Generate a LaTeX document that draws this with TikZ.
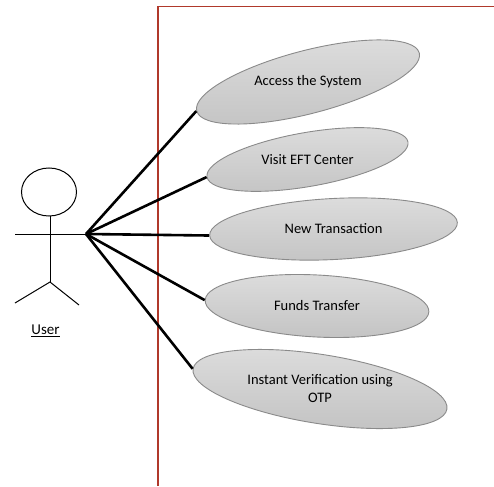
\documentclass[tikz,border=0pt]{standalone}
\usepackage{fontspec}
\setmainfont{Carlito}
\usetikzlibrary{shapes.geometric}
\definecolor{boundary}{HTML}{B0392B}
\definecolor{ucborder}{HTML}{8A8A8A}
\definecolor{uctop}{HTML}{DDDDDD}
\definecolor{ucbot}{HTML}{C4C4C4}
\begin{document}
\begin{tikzpicture}[x=1pt,y=-1pt,
  usecase/.style={ellipse, draw=ucborder, line width=0.9pt, top color=uctop,
    bottom color=ucbot, inner sep=0pt},
  uclabel/.style={font=\fontsize{14.5}{18}\selectfont, align=center, text=black},
  actorline/.style={line width=1pt, black},
  conn/.style={line width=2.6pt, black}]
\useasboundingbox (0,0) rectangle (494,486);

% system boundary
\draw[boundary, line width=1.1pt] (158,486) -- (158,6.5) -- (494,6.5);

% actor
\draw[actorline] (49,192) ellipse [x radius=27.5, y radius=24];
\draw[actorline] (50,216) -- (50,282);
\coordinate (hub) at (86,234);
\draw[actorline] (15,234) -- (hub);
\draw[actorline] (15,303) -- (50,282) -- (79,305);
\node[font=\fontsize{15}{18}\selectfont] (user) at (45.5,331) {\underline{User}};

% use cases
\node[usecase, rotate=14.6, minimum width=230, minimum height=63] (access) at (308,82) {};
\node[uclabel] (accessl) at (access) {Access the System};

\node[usecase, rotate=9.9, minimum width=204, minimum height=54] (visit) at (307.5,159.5) {};
\node[uclabel] (visitl) at (visit) {Visit EFT Center};

\node[usecase, rotate=3, minimum width=248, minimum height=61] (newtx) at (333.5,229) {};
\node[uclabel] (newtxl) at (newtx) {New Transaction};

\node[usecase, rotate=-3, minimum width=224, minimum height=62] (funds) at (317,306) {};
\node[uclabel] (fundsl) at (funds) {Funds Transfer};

\node[usecase, rotate=-9, minimum width=257, minimum height=69] (otp) at (320,389) {};
\node[uclabel] (otpl) at (otp) {Instant Verification using\\OTP};

% associations
\draw[conn] (hub) -- (access.west);
\draw[conn] (hub) -- (visit.west);
\draw[conn] (hub) -- (newtx.west);
\draw[conn] (hub) -- (funds.west);
\draw[conn] (hub) -- (otp.west);
\end{tikzpicture}
\end{document}
